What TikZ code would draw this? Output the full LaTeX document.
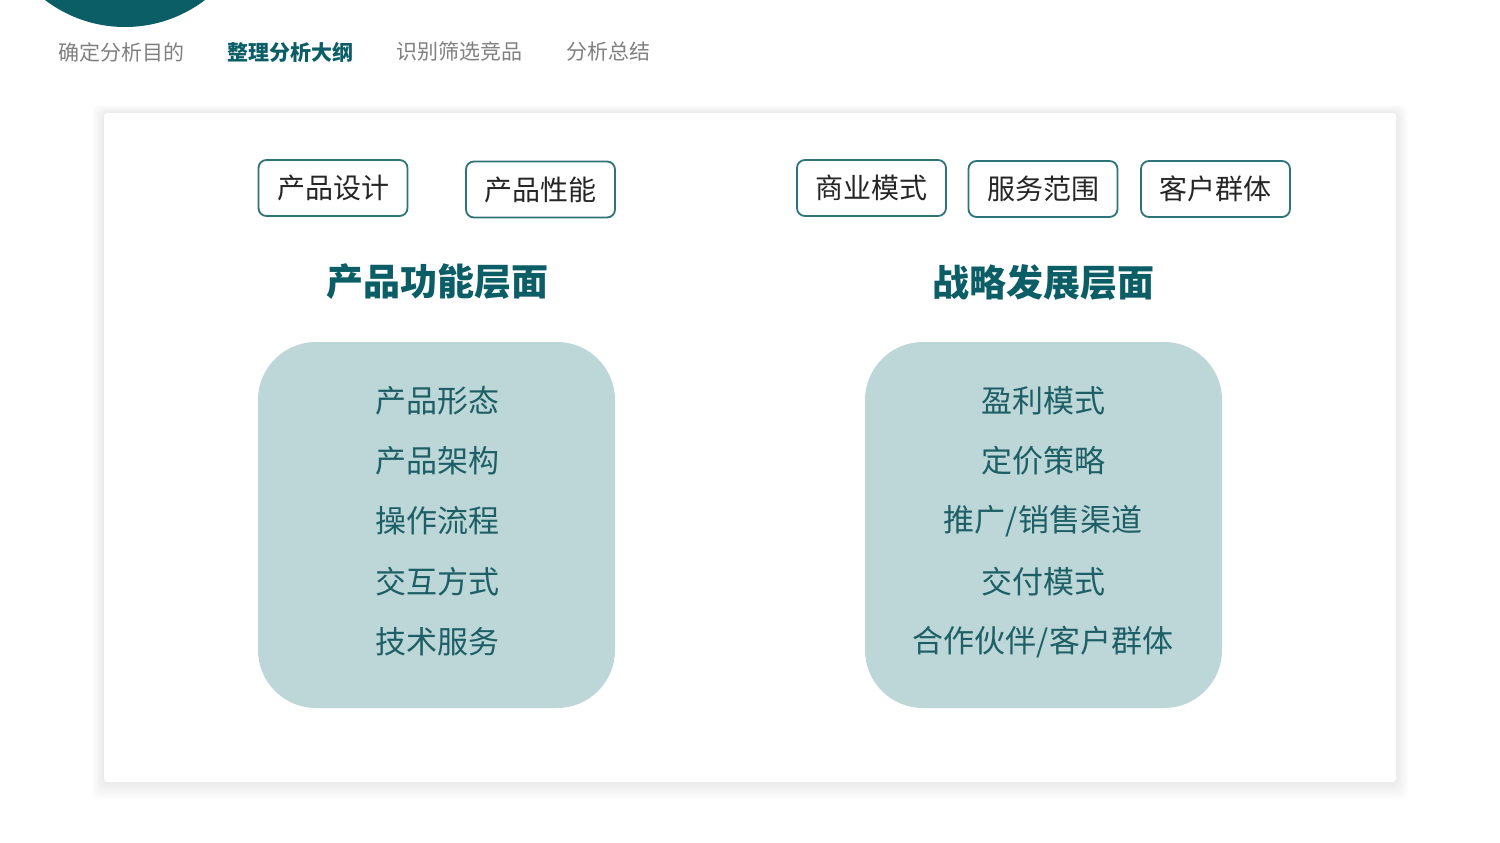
\documentclass[tikz,border=0pt]{standalone}
\usepackage{fontspec}
\setmainfont{Noto Sans CJK SC}
\newfontfamily\cjk{Noto Sans CJK SC}
\definecolor{teal}{HTML}{0B5E66}
\definecolor{boxline}{HTML}{2F7479}
\definecolor{panel}{HTML}{BDD6D7}
\definecolor{navgray}{HTML}{808080}
\definecolor{listtxt}{HTML}{1D5F66}
\begin{document}
\begin{tikzpicture}[x=1pt,y=-1pt,
  tagbox/.style={draw=boxline,line width=1.8pt,rounded corners=8pt,fill=white,
    minimum width=149pt,minimum height=56pt,inner sep=0pt,
    font=\cjk\fontsize{28}{30}\selectfont,text=black!85},
  navtxt/.style={font=\cjk\fontsize{21}{24}\selectfont,text=navgray,anchor=west},
  heading/.style={font=\cjk\bfseries\fontsize{37}{40}\selectfont,text=teal},
  listitem/.style={font=\cjk\fontsize{31}{34}\selectfont,text=listtxt},
  panelbox/.style={fill=panel,rounded corners=58pt}]
\useasboundingbox (0,0) rectangle (1500,843);
\fill[white] (0,0) rectangle (1500,843);
% top circle
\fill[teal] (125,-105) circle (132);
% nav
\node[navtxt] (n1) at (55,52) {确定分析目的};
\node[navtxt,text=teal,font=\cjk\bfseries\fontsize{21}{24}\selectfont] (n2) at (224,52) {整理分析大纲};
\node[navtxt] (n3) at (393,52) {识别筛选竞品};
\node[navtxt] (n4) at (563,52) {分析总结};
% card shadow
\foreach \i in {1,...,10}{
  \fill[black,opacity=0.006,rounded corners=8pt] (104-\i*1.2,113-\i*0.8) rectangle (1396+\i*1.2,782+\i*1.8);
}
\fill[white,rounded corners=3pt] (104,113) rectangle (1396,782);
% tag boxes
\node[tagbox] (t1) at (333,188) {产品设计};
\node[tagbox] (t2) at (540.5,189.5) {产品性能};
\node[tagbox] (t3) at (871.5,188) {商业模式};
\node[tagbox] (t4) at (1043,189) {服务范围};
\node[tagbox] (t5) at (1215.5,189) {客户群体};
% headings
\node[heading] (h1) at (437,282) {产品功能层面};
\node[heading] (h2) at (1043,282) {战略发展层面};
% panels
\fill[panelbox] (258,342) rectangle (615,708);
\fill[panelbox] (865,342) rectangle (1222,708);
% lists
\node[listitem] (a1) at (437,401) {产品形态};
\node[listitem] (a2) at (437,461) {产品架构};
\node[listitem] (a3) at (437,521) {操作流程};
\node[listitem] (a4) at (437,582) {交互方式};
\node[listitem] (a5) at (437,642) {技术服务};
\node[listitem] (b1) at (1043,401) {盈利模式};
\node[listitem] (b2) at (1043,461) {定价策略};
\node[listitem] (b3) at (1043,521) {推广/销售渠道};
\node[listitem] (b4) at (1043,582) {交付模式};
\node[listitem] (b5) at (1043,642) {合作伙伴/客户群体};
\end{tikzpicture}
\end{document}
